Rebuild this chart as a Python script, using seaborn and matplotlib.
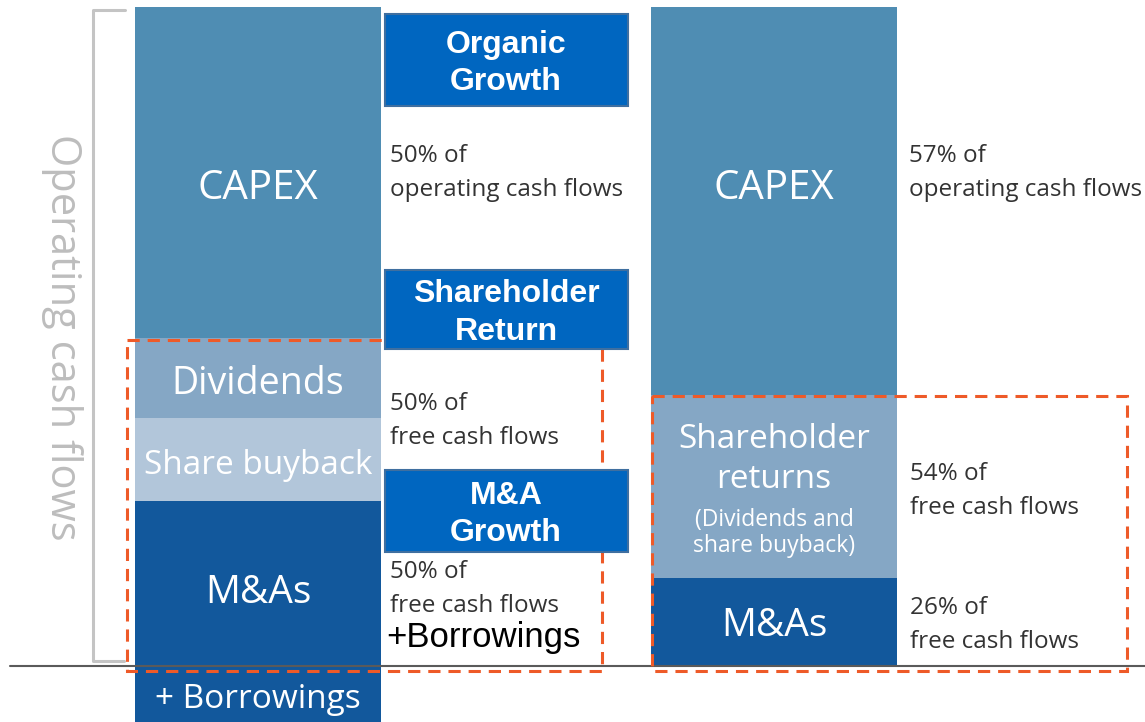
import numpy as np
import pandas as pd
import matplotlib
matplotlib.use("Agg")
import matplotlib.pyplot as plt
import seaborn as sns
from matplotlib.patches import Rectangle

# allocation of operating cash flows (% of bar height), bottom -> top
left_labels = ["M&As", "Share buyback", "Dividends", "CAPEX"]
left_values = [25.0, 12.7, 12.1, 50.2]
right_labels = ["M&As", "Shareholder returns", "CAPEX"]
right_values = [13.3, 27.8, 58.9]
borrowings = -10.0

seg_colors = {"CAPEX": "#4F8DB3", "Dividends": "#85A7C5", "Shareholder returns": "#85A7C5",
              "Share buyback": "#B2C6DA", "M&As": "#12589C"}

sns.set_theme(style="white")
plt.rcParams["font.family"] = ["Open Sans", "DejaVu Sans"]

fig = plt.figure(figsize=(11.45, 7.22), dpi=100)
ax = fig.add_axes([0, 0, 1, 1])

left_cum = np.cumsum(left_values)
right_cum = np.cumsum(right_values)
bar_x = [258, 774]
w = 246.5 / 516

# draw cumulative layers, tallest first, so each segment shows on top of the previous
layers = [
    ("CAPEX", [left_cum[3], right_cum[2]]),
    ("Dividends", [left_cum[2], right_cum[1]]),
    ("Share buyback", [left_cum[1], 0]),
    ("M&As", [left_cum[0], right_cum[0]]),
    ("M&As", [borrowings, 0]),
]
for name, heights in layers:
    df = pd.DataFrame({"x": bar_x, "y": heights})
    sns.barplot(data=df, x="x", y="y", native_scale=True, orient="x", width=w,
                color=seg_colors[name], saturation=1, linewidth=0, errorbar=None, ax=ax)

ax.set_xlim(0, 1145)
ax.set_ylim(-56 / 6.59, 666 / 6.59)
ax.axis("off")

# overlay in pixel coordinates
ov = fig.add_axes([0, 0, 1, 1], zorder=5)
ov.set_xlim(0, 1145)
ov.set_ylim(722, 0)
ov.axis("off")
ov.patch.set_alpha(0)

# baseline
ov.plot([10, 1145], [666, 666], color="#5A5A5A", lw=1.5, zorder=2)

# bracket
ov.plot([125, 93, 93, 124], [10, 10, 661, 661], color="#C4C4C4", lw=2.2, zorder=1)
ov.text(62, 337, "Operating cash flows", rotation=-90, ha="center", va="center",
        fontsize=30, color="#BDBDBD")

# dashed boxes
orange = "#EE5A28"
for (x0, y0, x1, y1) in [(127, 340, 602, 671), (652, 396, 1127, 671)]:
    ov.add_patch(Rectangle((x0, y0), x1 - x0, y1 - y0, fill=False, ec=orange, lw=2.2,
                           ls=(0, (4, 2.6)), zorder=3))

# blue boxes
box_font = ["Liberation Sans", "DejaVu Sans"]
for (y0, y1, l1, l2) in [(14, 106, "Organic", "Growth"), (270, 349, "Shareholder", "Return"),
                          (470, 552, "M&A", "Growth")]:
    ov.add_patch(Rectangle((385, y0), 243, y1 - y0, fc="#0066C0", ec="#3F6FA0", lw=1.5, zorder=4))
    mid = (y0 + y1) / 2
    ov.text(506, mid - 15, l1, ha="center", va="center", fontsize=23, fontweight="bold",
            color="white", family=box_font, zorder=5)
    ov.text(506, mid + 22, l2, ha="center", va="center", fontsize=23, fontweight="bold",
            color="white", family=box_font, zorder=5)

# segment labels
def seg(x, y, s, size=27):
    ov.text(x, y + 3, s, ha="center", va="center", fontsize=size, color="white", zorder=5)

seg(258, 186, "CAPEX", 29)
seg(258, 381, "Dividends", 27)
seg(258, 462, "Share buyback", 24)
seg(258, 590, "M&As", 28)
seg(258, 697, "+ Borrowings", 24)
seg(774, 186, "CAPEX", 29)
seg(774, 436, "Shareholder", 24)
seg(774, 477, "returns", 24)
seg(774, 517, "(Dividends and", 16.5)
seg(774, 543, "share buyback)", 16.5)
seg(774, 623, "M&As", 28)

# side notes
def note(x, y, l1, l2):
    ov.text(x, y + 3, l1, ha="left", va="center", fontsize=17.5, color="#333333", zorder=5)
    ov.text(x, y + 37, l2, ha="left", va="center", fontsize=17.5, color="#333333", zorder=5)

note(390, 153, "50% of", "operating cash flows")
note(390, 401, "50% of", "free cash flows")
note(390, 569, "50% of", "free cash flows")
note(909, 153, "57% of", "operating cash flows")
note(910, 471, "54% of", "free cash flows")
note(910, 605, "26% of", "free cash flows")
ov.text(386, 638, "+Borrowings", ha="left", va="center", fontsize=25, color="black",
        family=box_font, zorder=5)

fig.savefig("out.png", dpi=100)
